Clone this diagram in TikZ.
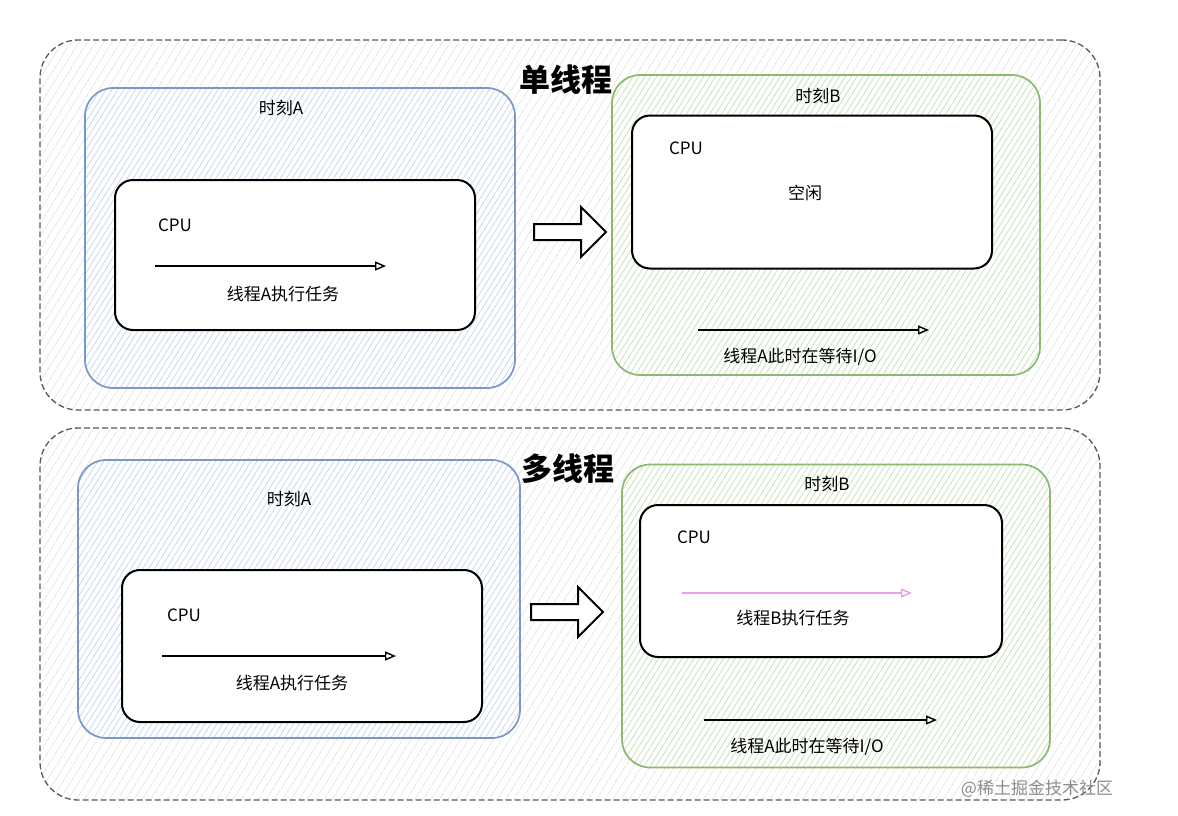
\documentclass[tikz,border=0pt]{standalone}
\usepackage{fontspec}
\setmainfont{Noto Sans CJK SC}
\usetikzlibrary{patterns.meta,shapes.arrows,arrows.meta}
\definecolor{bstroke}{HTML}{7B97C9}
\definecolor{bhatch}{HTML}{C4D3EE}
\definecolor{gstroke}{HTML}{8DB870}
\definecolor{ghatch}{HTML}{C6DDB4}
\definecolor{ohatch}{HTML}{E0E0E0}
\definecolor{pinkarrow}{HTML}{E8A0E8}
\tikzset{
  outerbox/.style={draw=black!65, dash pattern=on 6pt off 3pt, line width=1.3pt, rounded corners=38pt, inner sep=0pt,
    preaction={fill=white}, pattern={Lines[angle=58,distance=7pt,line width=0.6pt]}, pattern color=ohatch},
  bluebox/.style={draw=bstroke, line width=1.7pt, rounded corners=28pt, inner sep=0pt,
    preaction={fill=white}, pattern={Lines[angle=58,distance=5pt,line width=0.7pt]}, pattern color=bhatch},
  greenbox/.style={draw=gstroke, line width=1.7pt, rounded corners=28pt, inner sep=0pt,
    preaction={fill=white}, pattern={Lines[angle=58,distance=5pt,line width=0.7pt]}, pattern color=ghatch},
  cpubox/.style={draw=black, line width=2pt, rounded corners=18pt, fill=white, inner sep=0pt},
  lbl/.style={font=\fontsize{17}{20}\selectfont, inner sep=0pt},
  ttl/.style={font=\fontsize{31}{36}\selectfont\bfseries, inner sep=0pt},
  flow/.style={line width=1.6pt, -{Triangle[open,length=11pt,width=9pt,line width=1.4pt]}},
  bigarrow/.style={single arrow, draw=black, line width=2pt, fill=white, inner sep=7pt,
    minimum height=72pt, single arrow head extend=17pt},
}
\begin{document}
\begin{tikzpicture}[x=1pt,y=-1pt]
\useasboundingbox (0,0) rectangle (1178,816);
% ---------- single thread ----------
\node[outerbox, minimum width=1060, minimum height=370] (o1) at (570,225) {};
\node[ttl] (t1) at (566,80) {单线程};
\node[bluebox, minimum width=430, minimum height=300] (ba1) at (300,238) {};
\node[lbl] (la1) at (281,108) {时刻A};
\node[cpubox, minimum width=360, minimum height=150] (ca1) at (295,255) {};
\node[lbl] (cpu1) at (175,225) {CPU};
\coordinate (a1s) at (155,266); \coordinate (a1e) at (386,266);
\draw[flow] (a1s) -- (a1e);
\node[lbl] (x1) at (283,294) {线程A执行任务};
\node[bigarrow] (h1) at (566,232) {};
\node[greenbox, minimum width=428, minimum height=300] (bb1) at (826,225) {};
\node[lbl] (lb1) at (818,96) {时刻B};
\node[cpubox, minimum width=360, minimum height=153] (cb1) at (812,192) {};
\node[lbl] (cpu2) at (686,148) {CPU};
\node[lbl] (idle) at (805,193) {空闲};
\coordinate (a2s) at (698,330); \coordinate (a2e) at (929,330);
\draw[flow] (a2s) -- (a2e);
\node[lbl] (x2) at (800,357) {线程A此时在等待I/O};
% ---------- multi thread ----------
\node[outerbox, minimum width=1060, minimum height=372] (o2) at (570,614) {};
\node[ttl] (t2) at (568,469) {多线程};
\node[bluebox, minimum width=442, minimum height=278] (ba2) at (299,599) {};
\node[lbl] (la2) at (289,499) {时刻A};
\node[cpubox, minimum width=360, minimum height=152] (ca2) at (302,646) {};
\node[lbl] (cpu3) at (184,615) {CPU};
\coordinate (a3s) at (162,656); \coordinate (a3e) at (396,656);
\draw[flow] (a3s) -- (a3e);
\node[lbl] (x3) at (292,683) {线程A执行任务};
\node[bigarrow] (h2) at (563,612) {};
\node[greenbox, minimum width=428, minimum height=303] (bb2) at (836,616) {};
\node[lbl] (lb2) at (827,484) {时刻B};
\node[cpubox, minimum width=362, minimum height=152] (cb2) at (821,581) {};
\node[lbl] (cpu4) at (694,537) {CPU};
\coordinate (a4s) at (682,593); \coordinate (a4e) at (912,593);
\draw[flow, draw=pinkarrow] (a4s) -- (a4e);
\node[lbl] (x4) at (793,618) {线程B执行任务};
\coordinate (a5s) at (704,720); \coordinate (a5e) at (937,720);
\draw[flow] (a5s) -- (a5e);
\node[lbl] (x5) at (807,747) {线程A此时在等待I/O};
\node[lbl, text=black!45] (wm) at (1037,789) {@稀土掘金技术社区};
\end{tikzpicture}
\end{document}
